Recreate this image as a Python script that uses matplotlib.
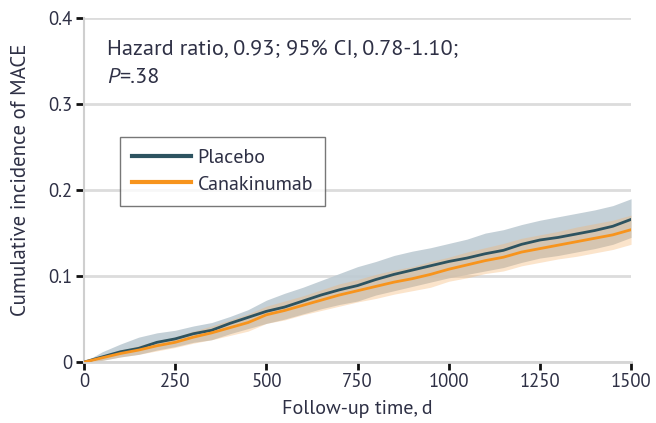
import matplotlib
matplotlib.use("Agg")
import matplotlib.pyplot as plt

days = [0, 50, 100, 150, 200, 250, 300, 350, 400, 450, 500, 550, 600, 650, 700,
        750, 800, 850, 900, 950, 1000, 1050, 1100, 1150, 1200, 1250, 1300, 1350,
        1400, 1450, 1500]

placebo = [0, 0.006, 0.012, 0.016, 0.023, 0.027, 0.033, 0.037, 0.045, 0.052, 0.059,
           0.064, 0.071, 0.078, 0.084, 0.089, 0.096, 0.102, 0.107, 0.112, 0.117,
           0.121, 0.126, 0.130, 0.137, 0.142, 0.145, 0.149, 0.153, 0.158, 0.166]
placebo_lo = [0, 0.002, 0.006, 0.009, 0.014, 0.018, 0.023, 0.026, 0.033, 0.039, 0.045,
              0.050, 0.056, 0.062, 0.067, 0.071, 0.078, 0.083, 0.088, 0.093, 0.098,
              0.102, 0.106, 0.110, 0.116, 0.121, 0.124, 0.128, 0.132, 0.137, 0.145]
placebo_hi = [0, 0.012, 0.021, 0.029, 0.034, 0.037, 0.042, 0.046, 0.053, 0.061, 0.072,
              0.080, 0.087, 0.095, 0.103, 0.111, 0.117, 0.124, 0.129, 0.133, 0.138,
              0.143, 0.150, 0.154, 0.160, 0.165, 0.169, 0.173, 0.177, 0.182, 0.190]

canakinumab = [0, 0.005, 0.010, 0.014, 0.019, 0.023, 0.029, 0.034, 0.040, 0.046, 0.055,
               0.060, 0.066, 0.072, 0.078, 0.083, 0.088, 0.093, 0.097, 0.102, 0.108,
               0.113, 0.118, 0.122, 0.128, 0.132, 0.136, 0.140, 0.144, 0.148, 0.154]
canakinumab_lo = [0, 0.002, 0.006, 0.009, 0.013, 0.017, 0.022, 0.026, 0.031, 0.036, 0.045,
                  0.049, 0.055, 0.060, 0.065, 0.070, 0.074, 0.079, 0.083, 0.087, 0.094,
                  0.098, 0.103, 0.106, 0.112, 0.116, 0.120, 0.123, 0.127, 0.131, 0.137]
canakinumab_hi = [0, 0.008, 0.014, 0.019, 0.025, 0.029, 0.036, 0.042, 0.049, 0.056, 0.065,
                  0.071, 0.077, 0.084, 0.091, 0.096, 0.102, 0.107, 0.111, 0.117, 0.122,
                  0.128, 0.133, 0.138, 0.144, 0.148, 0.152, 0.157, 0.161, 0.165, 0.171]

xticks = [0, 250, 500, 750, 1000, 1250, 1500]
yticks = [0, 0.1, 0.2, 0.3, 0.4]
ytick_labels = ["0", "0.1", "0.2", "0.3", "0.4"]

plt.rcParams["font.family"] = ["PT Sans", "DejaVu Sans"]
text_color = "#2e3045"
placebo_color = "#2d5360"
cana_color = "#f7941d"

fig = plt.figure(figsize=(6.56, 4.23), dpi=100)
ax = fig.add_axes([0.128, 0.144, 0.834, 0.813])

# confidence bands, then the cumulative incidence curves
ax.fill_between(days, placebo_lo, placebo_hi, color="#becbd3", alpha=0.9,
                linewidth=0, zorder=2)
ax.fill_between(days, canakinumab_lo, canakinumab_hi, color="#f5b26b", alpha=0.35,
                linewidth=0, zorder=3)
ax.plot(days, placebo, color=placebo_color, lw=2.0, zorder=4, label="Placebo")
ax.plot(days, canakinumab, color=cana_color, lw=2.0, zorder=5, label="Canakinumab")

ax.set_xlim(0, 1500)
ax.set_ylim(0, 0.4)
ax.set_xticks(xticks)
ax.set_yticks(yticks)
ax.set_yticklabels(ytick_labels)
ax.grid(axis="y", color="#dcdcdc", lw=2.0, zorder=0)
ax.set_axisbelow(True)
for s in ("top", "right"):
    ax.spines[s].set_visible(False)
ax.spines["left"].set_color("#cfcfcf")
ax.spines["left"].set_linewidth(1.5)
ax.spines["bottom"].set_color("#d5d5d5")
ax.spines["bottom"].set_linewidth(2.0)
ax.tick_params(axis="both", length=6, width=2.0, color="#111111",
               labelcolor=text_color, labelsize=13.5, pad=2)
ax.set_ylabel("Cumulative incidence of MACE", fontsize=15, color=text_color)
ax.yaxis.set_label_coords(-0.098, 0.53)
ax.set_xlabel("Follow-up time, d", fontsize=14.5, color=text_color, labelpad=6)

ax.text(63, 0.363, "Hazard ratio, 0.93; 95% CI, 0.78-1.10;", fontsize=16,
        color=text_color, va="center", ha="left")
p = ax.text(63, 0.331, "P", fontsize=16, color=text_color, va="center", ha="left",
            style="italic")
ax.annotate("=.38", xy=(1, 0.5), xycoords=p, fontsize=16, color=text_color,
            va="center", ha="left")

leg = ax.legend(loc="upper left", bbox_to_anchor=(0.066, 0.654), frameon=True,
                fancybox=False, edgecolor="#555555", fontsize=14.5, handlelength=2.9,
                labelcolor=text_color, borderpad=0.6, handletextpad=0.35,
                labelspacing=0.4, borderaxespad=0)
leg.get_frame().set_linewidth(1.0)
for line in leg.get_lines():
    line.set_linewidth(3)

fig.savefig("out.png", dpi=100)
